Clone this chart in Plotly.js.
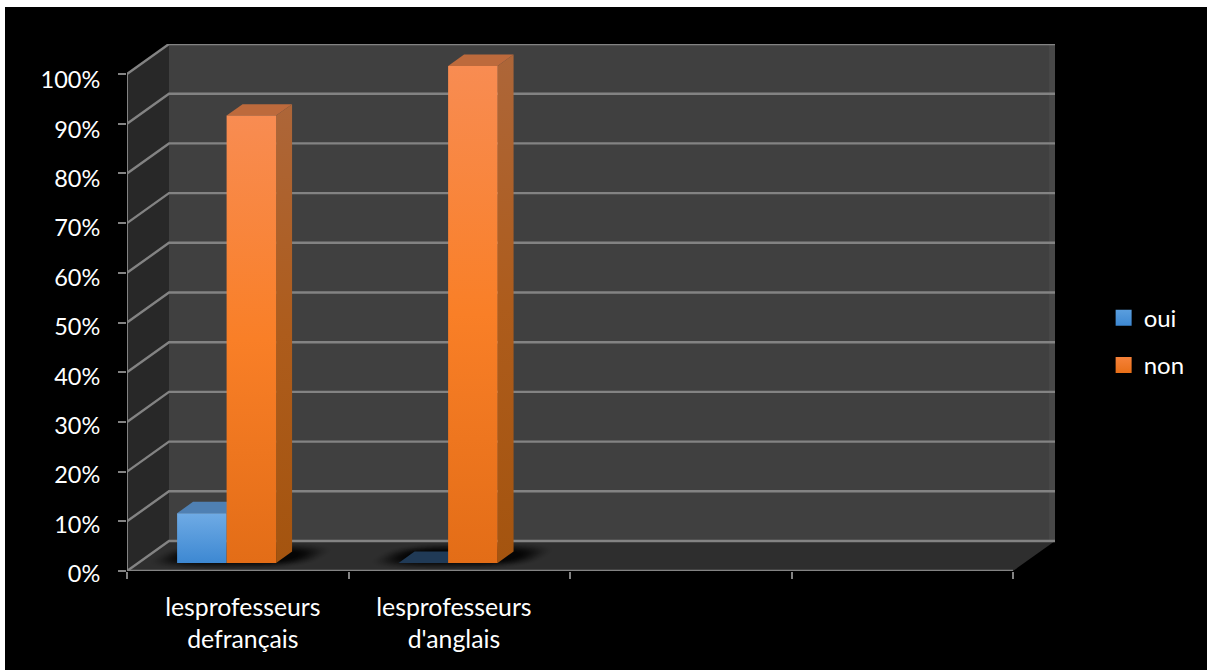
<!DOCTYPE html>
<html>
<head>
<meta charset="utf-8">
<script src="https://cdn.plot.ly/plotly-3.0.1.min.js"></script>
<style>
  html, body { margin: 0; padding: 0; background: #ffffff; overflow: hidden; }
  #chart { position: absolute; left: 5px; top: 7px; width: 1202px; height: 663px; }
</style>
</head>
<body>
<div id="chart"></div>
<script>
// Survey results per teacher group, in percent
const categories = ["lesprofesseurs<br>defrançais", "lesprofesseurs<br>d'anglais"];
const oui = [10, 0];
const non = [90, 100];
const percentTicks = [0, 10, 20, 30, 40, 50, 60, 70, 80, 90, 100];
const slotEdges = [0, 1, 2, 3, 4];
const labelCentres = [0.523, 1.476];

// Oblique projection of the box: depth 0 is the front plane, depth 1 the back wall
const SKEW_X = 0.1896;   // slots per unit of depth
const SKEW_Y = 6.04;     // percent per unit of depth
const SLOTS = 4;
const TOP = 100;
const px = (u, d) => u + d * SKEW_X;
const py = (v, d) => v + d * SKEW_Y;

// Bar placement inside a slot, and its extent in depth
const BAR_OFFSET = 0.175, BAR_W = 0.2235, BAR_D0 = 0.27, BAR_D1 = 0.65;

const GRID = '#838383';
const traces = [];

function poly(pts, style) {
  traces.push(Object.assign({
    type: 'scatter', mode: 'lines', x: pts.map(p => px(p[0], p[2])), y: pts.map(p => py(p[1], p[2])),
    fill: 'toself', line: { width: 0 }, showlegend: false, hoverinfo: 'skip', cliponaxis: false
  }, style));
}
function stroke(pts, width) {
  traces.push({
    type: 'scatter', mode: 'lines', x: pts.map(p => px(p[0], p[2])), y: pts.map(p => py(p[1], p[2])),
    line: { color: GRID, width: width }, showlegend: false, hoverinfo: 'skip', cliponaxis: false
  });
}
const vertical = (stops) => ({ type: 'vertical', colorscale: stops });

// Walls and floor
poly([[0, 0, 0], [0, 0, 1], [0, TOP, 1], [0, TOP, 0], [0, 0, 0]], { fillcolor: '#282828' });
poly([[0, 0, 1], [SLOTS, 0, 1], [SLOTS, TOP, 1], [0, TOP, 1], [0, 0, 1]], { fillcolor: '#404040' });
poly([[SLOTS - 0.027, 0, 1], [SLOTS, 0, 1], [SLOTS, TOP, 1], [SLOTS - 0.027, TOP, 1], [SLOTS - 0.027, 0, 1]], { fillcolor: '#484848' });
poly([[0, 0, 0], [SLOTS, 0, 0], [SLOTS, 0, 1], [0, 0, 1], [0, 0, 0]], { fillcolor: '#2e2e2e' });

// Gridlines wrap around the left wall and the back wall
percentTicks.forEach(v => stroke([[0, v, 0], [0, v, 1], [SLOTS, v, 1]], 2.4));

// Soft contact shadow on the floor, built from nested translucent rounded outlines
categories.forEach((c, i) => {
  const midU = i + BAR_OFFSET + BAR_W + 0.02, midD = 0.5;
  const LAYERS = 18;
  for (let k = 0; k < LAYERS; k++) {
    const f = 1 - k / LAYERS;
    const halfU = BAR_W + 0.02 + 0.14 * f;
    const halfD = 0.16 + 0.3 * f;
    const outline = [];
    for (let a = 0; a <= 32; a++) {
      const t = a / 32 * 2 * Math.PI;
      const cx = Math.cos(t), sx = Math.sin(t);
      const u = midU + halfU * Math.sign(cx) * Math.pow(Math.abs(cx), 0.6);
      const d = midD + halfD * Math.sign(sx) * Math.pow(Math.abs(sx), 0.8);
      outline.push([u, 0, d]);
    }
    poly(outline, { fillcolor: 'rgba(0,0,0,' + (0.012 + 0.009 * k).toFixed(3) + ')' });
  }
});

// One box per value: side, top, then front so nearer faces paint last
function box(left, value, faces) {
  const right = left + BAR_W;
  if (value === 0) {
    poly([[left, 0, BAR_D0], [right, 0, BAR_D0], [right, 0, BAR_D1], [left, 0, BAR_D1], [left, 0, BAR_D0]], { fillcolor: faces.floor });
    return;
  }
  poly([[right, 0, BAR_D0], [right, 0, BAR_D1], [right, value, BAR_D1], [right, value, BAR_D0], [right, 0, BAR_D0]],
    { fillgradient: vertical(faces.side) });
  poly([[left, value, BAR_D0], [right, value, BAR_D0], [right, value, BAR_D1], [left, value, BAR_D1], [left, value, BAR_D0]],
    { fillcolor: faces.top });
  poly([[left, 0, BAR_D0], [right, 0, BAR_D0], [right, value, BAR_D0], [left, value, BAR_D0], [left, 0, BAR_D0]],
    { fillgradient: vertical(faces.front) });
}
const blueFaces = {
  floor: '#203a56', top: '#4f80b3',
  side: [[0, '#2c5f94'], [1, '#4a80b8']],
  front: [[0, '#3d88d2'], [1, '#6fabe5']]
};
const orangeFaces = {
  floor: '#7a4010', top: '#bd6a3c',
  side: [[0, '#a4540f'], [0.5, '#ad5c1c'], [1, '#ad6639']],
  front: [[0, '#e36d17'], [0.5, '#f97f27'], [1, '#f88c52']]
};
categories.forEach((c, i) => {
  box(i + BAR_OFFSET, oui[i], blueFaces);
  box(i + BAR_OFFSET + BAR_W, non[i], orangeFaces);
});

// Axis lines along the front plane
stroke([[0, 0, 0], [0, TOP, 0]], 2);
stroke([[0, 0, 0], [SLOTS, 0, 0]], 2.4);

// Percent labels live on their own slightly taller axis, a touch looser than the tick marks
traces.push({ type: 'scatter', mode: 'markers', x: [null], y: [null], yaxis: 'y2', showlegend: false, hoverinfo: 'skip' });

// Legend keys
[['oui', '#5a9ede', '#3d88d2'], ['non', '#f6823a', '#e86f18']].forEach(s => {
  traces.push({
    type: 'scatter', mode: 'markers', name: s[0], x: [null], y: [null], legendgroup: s[0],
    marker: { symbol: 'square', size: 16, color: s[1], line: { width: 0 }, gradient: { type: 'vertical', color: s[2] } },
    hoverinfo: 'skip'
  });
});

const tickFont = { family: 'Lato, "Open Sans", sans-serif', size: 23.5, color: '#ffffff' };
const catFont = { family: 'Lato, "Open Sans", sans-serif', size: 24.8, color: '#ffffff' };
const legendFont = { family: 'Lato, "Open Sans", sans-serif', size: 24, color: '#ffffff' };
const layout = {
  width: 1202, height: 663,
  paper_bgcolor: '#000000', plot_bgcolor: 'rgba(0,0,0,0)',
  margin: { l: 122, r: 152, t: 37, b: 79, pad: 0 },
  hovermode: false,
  showlegend: true,
  legend: {
    xref: 'container', yref: 'container', x: 0.914, xanchor: 'left', y: 0.4953, yanchor: 'middle', font: legendFont,
    tracegroupgap: 13, itemsizing: 'trace', bgcolor: 'rgba(0,0,0,0)', itemclick: false, itemdoubleclick: false
  },
  xaxis: {
    type: 'linear', range: [0, px(SLOTS, 1)], showgrid: false, zeroline: false, showline: false,
    tickmode: 'array', tickvals: labelCentres, ticktext: categories, ticks: '', ticklabelstandoff: 19, tickfont: catFont,
    minor: { tickmode: 'array', tickvals: slotEdges, ticks: 'outside', ticklen: 7, tickwidth: 1.5, tickcolor: GRID, showgrid: false },
    fixedrange: true
  },
  yaxis: {
    type: 'linear', domain: [20 / 547, 1], range: [0, py(TOP, 1)], showgrid: false, zeroline: false, showline: false,
    tickmode: 'array', tickvals: percentTicks, showticklabels: false,
    ticks: 'outside', ticklen: 8, tickwidth: 1.5, tickcolor: GRID,
    fixedrange: true
  },
  yaxis2: {
    type: 'linear', anchor: 'x', side: 'left', domain: [0, 1], range: [-3.44, 107.29], showgrid: false, zeroline: false, showline: false,
    tickmode: 'array', tickvals: percentTicks, ticktext: percentTicks.map(v => v + '%'),
    ticks: 'outside', ticklen: 8, tickcolor: 'rgba(0,0,0,0)', ticklabelstandoff: 13, tickfont: tickFont,
    fixedrange: true
  }
};
Plotly.newPlot('chart', traces, layout, { displayModeBar: false });
</script>
</body>
</html>
